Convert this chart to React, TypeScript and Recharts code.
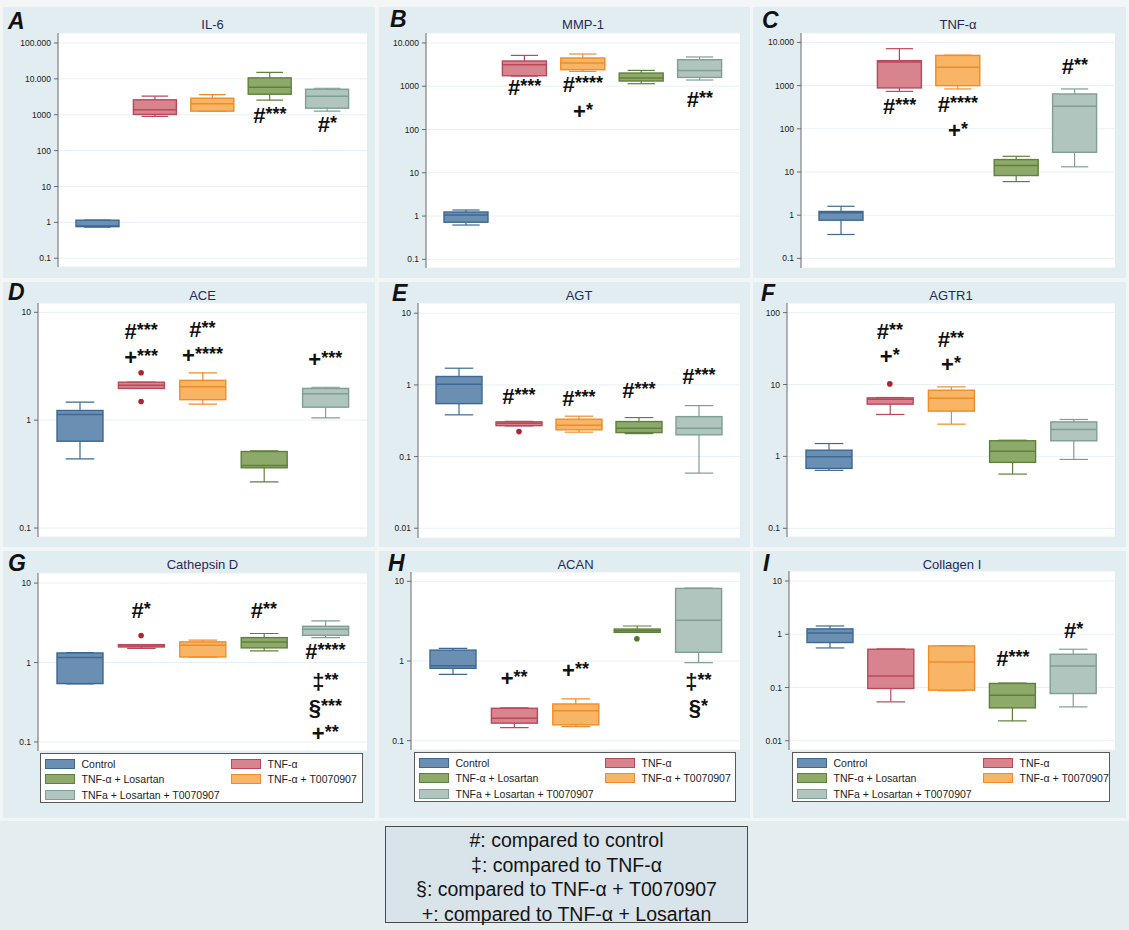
import React from 'react'
import { ComposedChart, Bar, XAxis, YAxis, CartesianGrid, ReferenceDot } from 'recharts'

const FONT = "'Liberation Sans', Arial, sans-serif"

// groups in plotting order
const GROUPS = ['Control', 'TNF-α', 'TNF-α + T0070907', 'TNF-α + Losartan', 'TNFa + Losartan + T0070907']
const FILLS = ['#6b8fb2', '#d7848f', '#f9b566', '#8eaa6a', '#afc5be']
const STROKES = ['#3d6893', '#b9485b', '#f08c26', '#5f803c', '#7f9e94']
const DOTS = ['#3d6893', '#b3232f', '#e07a10', '#4a7a2a', '#6f8f85']

// legend order (group index, column, row)
const LEGEND_CELLS = [[0, 0, 0], [1, 1, 0], [3, 0, 1], [2, 1, 1], [4, 0, 2]]

// [min, q1, median, q3, max] per group
const IL6_STATS = [
  [0.74, 0.76, 0.79, 1.15, 1.16],
  [897, 1020, 1376, 2610, 3290],
  [1230, 1259, 2020, 2890, 3660],
  [2545, 3735, 5846, 10660, 15240],
  [1259, 1525, 3288, 5140, 5480],
]
const MMP1_STATS = [
  [0.62, 0.72, 1.06, 1.24, 1.38],
  [1720, 1750, 3146, 3830, 5160],
  [2200, 2410, 3444, 4500, 5560],
  [1143, 1320, 1548, 2020, 2320],
  [1392, 1600, 2322, 4105, 4745],
]
const TNF_STATS = [
  [0.358, 0.766, 1.14, 1.22, 1.61],
  [736, 883, 3523, 3775, 7150],
  [837, 997, 2642, 5000, 5050],
  [6.0, 8.28, 14.1, 19.4, 23.1],
  [13.2, 28.6, 331, 641, 837],
]
const ACE_STATS = [
  [0.438, 0.638, 1.13, 1.23, 1.47],
  [1.97, 1.97, 2.11, 2.25, 2.25],
  [1.41, 1.55, 2.04, 2.34, 2.75],
  [0.268, 0.362, 0.38, 0.512, 0.52],
  [1.05, 1.32, 1.76, 1.97, 2.02],
]
const AGT_STATS = [
  [0.382, 0.548, 1.02, 1.31, 1.71],
  [0.268, 0.27, 0.292, 0.305, 0.31],
  [0.219, 0.236, 0.274, 0.332, 0.366],
  [0.209, 0.216, 0.249, 0.308, 0.35],
  [0.0587, 0.201, 0.249, 0.361, 0.514],
]
const AGTR1_STATS = [
  [0.64, 0.681, 0.99, 1.22, 1.51],
  [3.83, 5.33, 6.25, 6.52, 6.6],
  [2.81, 4.26, 6.45, 8.33, 9.26],
  [0.568, 0.826, 1.18, 1.65, 1.68],
  [0.908, 1.65, 2.37, 3.02, 3.26],
]
const CATD_STATS = [
  [0.54, 0.544, 1.156, 1.32, 1.33],
  [1.51, 1.57, 1.62, 1.68, 1.68],
  [1.17, 1.176, 1.65, 1.82, 1.91],
  [1.4, 1.53, 1.82, 2.06, 2.32],
  [2.06, 2.2, 2.62, 2.86, 3.34],
]
const ACAN_STATS = [
  [0.681, 0.81, 0.873, 1.37, 1.44],
  [0.146, 0.166, 0.191, 0.255, 0.258],
  [0.15, 0.158, 0.238, 0.289, 0.334],
  [2.28, 2.29, 2.4, 2.52, 2.75],
  [0.952, 1.285, 3.26, 8.15, 8.2],
]
const COL1_STATS = [
  [0.553, 0.699, 1.06, 1.26, 1.43],
  [0.0537, 0.0958, 0.165, 0.523, 0.53],
  [0.087, 0.089, 0.302, 0.604, 0.61],
  [0.0236, 0.0414, 0.0718, 0.119, 0.121],
  [0.0432, 0.077, 0.254, 0.421, 0.523],
]

// outliers: [group, value]
const ACE_OUTLIERS = [[1, 2.75], [1, 1.49]]
const AGT_OUTLIERS = [[1, 0.223]]
const AGTR1_OUTLIERS = [[1, 10.2]]
const CATD_OUTLIERS = [[1, 2.19]]
const ACAN_OUTLIERS = [[3, 1.9]]

// significance marks: [group, value, symbol, stars]
const IL6_MARKS: [number, number, string, string][] = [[3, 956, '#', '***'], [4, 562, '#', '*']]
const MMP1_MARKS: [number, number, string, string][] = [
  [1, 958, '#', '***'], [2, 1125, '#', '****'], [2, 275, '+', '*'], [4, 505, '#', '**'],
]
const TNF_MARKS: [number, number, string, string][] = [
  [1, 344, '#', '***'], [2, 383, '#', '****'], [2, 96, '+', '*'], [4, 2786, '#', '**'],
]
const ACE_MARKS: [number, number, string, string][] = [
  [1, 6.69, '#', '***'], [1, 3.87, '+', '***'], [2, 6.94, '#', '**'], [2, 3.98, '+', '****'], [4, 3.66, '+', '***'],
]
const AGT_MARKS: [number, number, string, string][] = [
  [1, 0.703, '#', '***'], [2, 0.652, '#', '***'], [3, 0.852, '#', '***'], [4, 1.335, '#', '***'],
]
const AGTR1_MARKS: [number, number, string, string][] = [
  [1, 55.5, '#', '**'], [1, 24.7, '+', '*'], [2, 43.5, '#', '**'], [2, 19.1, '+', '*'],
]
const CATD_MARKS: [number, number, string, string][] = [
  [1, 4.55, '#', '*'], [3, 4.55, '#', '**'], [4, 1.39, '#', '****'], [4, 0.582, '‡', '**'], [4, 0.277, '§', '***'], [4, 0.13, '+', '**'],
]
const ACAN_MARKS: [number, number, string, string][] = [
  [1, 0.607, '+', '**'], [2, 0.771, '+', '**'], [4, 0.561, '‡', '**'], [4, 0.267, '§', '*'],
]
const COL1_MARKS: [number, number, string, string][] = [[3, 0.359, '#', '***'], [4, 1.19, '#', '*']]

const NOTE_LINES = [
  '#: compared to control',
  '‡: compared to TNF-α',
  '§: compared to TNF-α + T0070907',
  '+: compared to TNF-α + Losartan',
]

const T6 = [0.1, 1, 10, 100, 1000, 10000, 100000]

const PANELS = [
  { letter: 'A', lx: 5, ly: 22, title: 'IL-6', tdy: 17.5, stats: IL6_STATS, marks: IL6_MARKS, outliers: [] as number[][],
    left: 3, top: 7, w: 372, h: 271, axisW: 55, mt: 26, mr: 8, mb: 11, bar: 43, domain: [0.057, 190000], ticks: T6, legend: null as null | number[] },
  { letter: 'B', lx: 11, ly: 20, title: 'MMP-1', tdy: 17.5, stats: MMP1_STATS, marks: MMP1_MARKS, outliers: [],
    left: 379, top: 7, w: 371, h: 271, axisW: 47, mt: 26, mr: 10, mb: 10, bar: 44, domain: [0.063, 17000], ticks: T6.slice(0, 6), legend: null },
  { letter: 'C', lx: 9, ly: 21, title: 'TNF-α', tdy: 17.5, stats: TNF_STATS, marks: TNF_MARKS, outliers: [],
    left: 753, top: 7, w: 373, h: 271, axisW: 48, mt: 26, mr: 11, mb: 10, bar: 44, domain: [0.06, 16500], ticks: T6.slice(0, 6), legend: null },
  { letter: 'D', lx: 5, ly: 18, title: 'ACE', tdy: 13, stats: ACE_STATS, marks: ACE_MARKS, outliers: ACE_OUTLIERS,
    left: 3, top: 282, w: 372, h: 265, axisW: 35, mt: 21, mr: 8, mb: 10, bar: 46, domain: [0.0826, 12.2], ticks: [0.1, 1, 10], legend: null },
  { letter: 'E', lx: 13, ly: 19, title: 'AGT', tdy: 13, stats: AGT_STATS, marks: AGT_MARKS, outliers: AGT_OUTLIERS,
    left: 379, top: 282, w: 371, h: 265, axisW: 39, mt: 21, mr: 10, mb: 9, bar: 46, domain: [0.0073, 13.9], ticks: [0.01, 0.1, 1, 10], legend: null },
  { letter: 'F', lx: 8, ly: 19, title: 'AGTR1', tdy: 13, stats: AGTR1_STATS, marks: AGTR1_MARKS, outliers: AGTR1_OUTLIERS,
    left: 753, top: 282, w: 373, h: 265, axisW: 34, mt: 21, mr: 11, mb: 10, bar: 46, domain: [0.0757, 136], ticks: [0.1, 1, 10, 100], legend: null },
  { letter: 'G', lx: 5, ly: 20, title: 'Cathepsin D', tdy: 13, stats: CATD_STATS, marks: CATD_MARKS, outliers: CATD_OUTLIERS,
    left: 3, top: 551, w: 372, h: 267, axisW: 35, mt: 22, mr: 8, mb: 67, bar: 46, domain: [0.077, 13.4], ticks: [0.1, 1, 10], legend: [37, 202, 323] },
  { letter: 'H', lx: 9, ly: 20, title: 'ACAN', tdy: 13, stats: ACAN_STATS, marks: ACAN_MARKS, outliers: ACAN_OUTLIERS,
    left: 379, top: 551, w: 371, h: 267, axisW: 32, mt: 21, mr: 10, mb: 68, bar: 46, domain: [0.0764, 13.1], ticks: [0.1, 1, 10], legend: [35, 201, 322] },
  { letter: 'I', lx: 10, ly: 20, title: 'Collagen I', tdy: 13, stats: COL1_STATS, marks: COL1_MARKS, outliers: [],
    left: 753, top: 551, w: 373, h: 267, axisW: 36, mt: 20, mr: 11, mb: 68, bar: 46, domain: [0.0067, 15.4], ticks: [0.01, 0.1, 1, 10], legend: [39, 201, 318] },
]

const fmtTick = (v: number) => (v >= 10000 ? String(v).replace(/\B(?=(\d{3})+(?!\d))/g, '.') : String(v))

// one box plot per category; the bar spans [min, max] on the log axis
function BoxShape(props: any) {
  const { x, y, width, height, payload } = props
  const [mn, q1, md, q3, mx] = payload.stats
  const i = payload.idx
  const lt = Math.log10(mx)
  const lb = Math.log10(mn)
  const py = (v: number) => (lt === lb ? y : y + (height * (lt - Math.log10(v))) / (lt - lb))
  const cx = x + width / 2
  const cap = width * 0.31
  const s = STROKES[i]
  return (
    <g>
      <line x1={cx} x2={cx} y1={py(mx)} y2={py(q3)} stroke={s} strokeWidth={1.2} />
      <line x1={cx} x2={cx} y1={py(q1)} y2={py(mn)} stroke={s} strokeWidth={1.2} />
      <line x1={cx - cap} x2={cx + cap} y1={py(mx)} y2={py(mx)} stroke={s} strokeWidth={1.2} />
      <line x1={cx - cap} x2={cx + cap} y1={py(mn)} y2={py(mn)} stroke={s} strokeWidth={1.2} />
      <rect x={x} y={py(q3)} width={width} height={Math.max(py(q1) - py(q3), 1)} fill={FILLS[i]} stroke={s} strokeWidth={1.4} />
      <line x1={x} x2={x + width} y1={py(md)} y2={py(md)} stroke={s} strokeWidth={1.5} />
    </g>
  )
}

function Mark({ cx, cy, sym, stars }: { cx: number; cy: number; sym: string; stars: string }) {
  return (
    <text x={cx} y={cy + 8} textAnchor="middle" fontFamily={FONT} fontWeight="bold" fill="#111">
      <tspan fontSize={22}>{sym}</tspan>
      <tspan fontSize={18} dy={-3}>{stars}</tspan>
    </text>
  )
}

function BoxLegend({ left, top, width }: { left: number; top: number; width: number }) {
  return (
    <div style={{ position: 'absolute', left, top, width, height: 50, boxSizing: 'border-box', border: '1px solid #5a5a5a', background: '#fff' }}>
      {LEGEND_CELLS.map(([g, col, row]) => {
        const cy = 9.5 + 15.8 * row
        return (
          <React.Fragment key={g}>
            <div style={{ position: 'absolute', left: col ? 190 : 4, top: cy - 5, width: 30, height: 10, boxSizing: 'border-box', border: `1px solid ${STROKES[g]}`, background: FILLS[g] }} />
            <div style={{ position: 'absolute', left: col ? 226.5 : 40.5, top: cy - 7, fontFamily: FONT, fontSize: 10.5, lineHeight: '14px', color: '#222', whiteSpace: 'nowrap' }}>
              {GROUPS[g]}
            </div>
          </React.Fragment>
        )
      })}
    </div>
  )
}

function Panel({ p }: { p: (typeof PANELS)[number] }) {
  const data = GROUPS.map((name, idx) => ({ name, idx, stats: p.stats[idx] }))
  return (
    <div style={{ position: 'absolute', left: p.left, top: p.top, width: p.w, height: p.h, background: '#e2edf1' }}>
      <ComposedChart width={p.w} height={p.h} data={data} margin={{ top: p.mt, right: p.mr, bottom: p.mb, left: 0 }}>
        <CartesianGrid vertical={false} stroke="#e9f0f3" fill="#ffffff" />
        <XAxis dataKey="name" type="category" hide padding={{ left: 11, right: 11 }} />
        <YAxis
          scale="log"
          type="number"
          domain={p.domain}
          allowDataOverflow
          ticks={p.ticks}
          interval={0}
          width={p.axisW}
          tickFormatter={fmtTick}
          tick={{ fontSize: 8.5, fill: '#1a1a1a', fontFamily: FONT }}
          tickSize={4}
          tickMargin={3}
          axisLine={{ stroke: '#6a6a6a' }}
          tickLine={{ stroke: '#6a6a6a' }}
        />
        <Bar dataKey={(d: any) => [d.stats[0], d.stats[4]]} barSize={p.bar} shape={BoxShape} isAnimationActive={false} />
        {p.outliers.map(([g, v], k) => (
          <ReferenceDot key={`o${k}`} x={GROUPS[g]} y={v} r={2.8} fill={DOTS[g]} stroke="none" ifOverflow="visible" />
        ))}
        {p.marks.map(([g, v, sym, stars], k) => (
          <ReferenceDot
            key={`m${k}`}
            x={GROUPS[g]}
            y={v}
            r={0}
            ifOverflow="visible"
            shape={(sp: any) => <Mark cx={sp.cx} cy={sp.cy} sym={sym} stars={stars} />}
          />
        ))}
      </ComposedChart>
      {p.legend && <BoxLegend left={p.legend[0]} top={p.legend[1]} width={p.legend[2]} />}
    </div>
  )
}

export default function App() {
  return (
    <div style={{ position: 'absolute', left: 0, top: 0, width: 1129, height: 930, background: '#e4edf0', overflow: 'hidden' }}>
      <div style={{ position: 'absolute', left: 0, top: 0, width: 1129, height: 821, background: '#f2f6f7' }} />
      {PANELS.map((p) => (
        <Panel key={p.letter} p={p} />
      ))}
      <svg width={1129} height={930} style={{ position: 'absolute', left: 0, top: 0, pointerEvents: 'none' }}>
        {PANELS.map((p) => (
          <g key={p.letter}>
            <text x={p.left + p.lx} y={p.top + p.ly} fontFamily={FONT} fontWeight="bold" fontStyle="italic" fontSize={23} fill="#111">
              {p.letter}
            </text>
            <text
              x={p.left + p.axisW + (p.w - p.axisW - p.mr) / 2}
              y={p.top + p.tdy}
              textAnchor="middle"
              dominantBaseline="central"
              fontFamily={FONT}
              fontSize={13}
              fill="#1f2b58"
            >
              {p.title}
            </text>
          </g>
        ))}
      </svg>
      <div
        style={{
          position: 'absolute', left: 385, top: 826, width: 363, height: 97, boxSizing: 'border-box',
          border: '1px solid #4a4a4a', background: '#d9e3ea', textAlign: 'center', paddingTop: 1,
          fontFamily: FONT, fontSize: 19.5, lineHeight: '24.6px', color: '#141414',
        }}
      >
        {NOTE_LINES.map((t) => (
          <div key={t}>{t}</div>
        ))}
      </div>
    </div>
  )
}
